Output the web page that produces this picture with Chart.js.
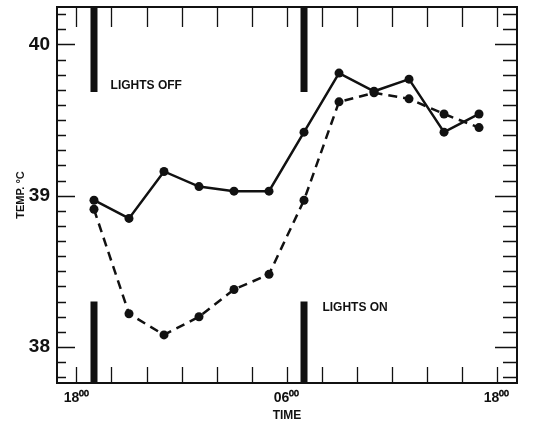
<!DOCTYPE html>
<html>
<head>
<meta charset="utf-8">
<script src="https://cdn.jsdelivr.net/npm/chart.js@4.4.0/dist/chart.umd.min.js"></script>
<style>
  html, body { margin: 0; padding: 0; background: #fff; }
  #wrap { width: 548px; height: 429px; }
</style>
</head>
<body>
<div id="wrap"><canvas id="tempChart"></canvas></div>
<script>
// hours after 18:00
const hours = [1, 3, 5, 7, 9, 11, 13, 15, 17, 19, 21, 23];
const tempSolid = [38.97, 38.85, 39.16, 39.06, 39.03, 39.03, 39.42, 39.81, 39.69, 39.77, 39.42, 39.54];
const tempDashed = [38.91, 38.22, 38.08, 38.20, 38.38, 38.48, 38.97, 39.62, 39.68, 39.64, 39.54, 39.45];

const lightsHours = [1, 13];
const lightsTopRange = [40.3, 39.685];
const lightsBottomRange = [38.30, 37.7];
const lightsLabels = [
  { text: 'LIGHTS OFF', x: 1.95, y: 39.724 },
  { text: 'LIGHTS ON', x: 14.05, y: 38.258 }
];

const yTickValues = [38, 39, 40];
const xTickValues = [0, 12, 24];
const xTickLabels = ['18⁰⁰', '06⁰⁰', '18⁰⁰'];

const FONT = "'Liberation Sans', Arial, sans-serif";
const INK = '#111';

const pts = arr => hours.map((h, i) => ({ x: h, y: arr[i] }));

const barSets = [];
lightsHours.forEach(h => {
  [lightsTopRange, lightsBottomRange].forEach(r => {
    barSets.push({
      data: r.map(v => ({ x: h, y: v })),
      borderColor: INK,
      borderWidth: 7,
      borderCapStyle: 'butt',
      pointRadius: 0,
      clip: 0
    });
  });
});

// frame, inward ticks and text labels
const framePlugin = {
  id: 'frame',
  afterDatasetsDraw(chart) {
    const { ctx, chartArea: a, scales: { x, y } } = chart;
    ctx.save();
    ctx.strokeStyle = INK;
    ctx.lineWidth = 2;
    ctx.strokeRect(a.left, a.top, a.right - a.left, a.bottom - a.top);

    ctx.lineWidth = 1.3;
    ctx.beginPath();
    for (let i = 378; i <= 402; i++) {
      const v = i / 10;
      const py = Math.round(y.getPixelForValue(v)) + 0.5;
      const major = i % 10 === 0;
      ctx.moveTo(a.left, py); ctx.lineTo(a.left + (major ? 18 : 9), py);
      ctx.moveTo(a.right, py); ctx.lineTo(a.right - (major ? 22 : 14), py);
    }
    for (let h = 0; h <= 24; h += 2) {
      const px = Math.round(x.getPixelForValue(h)) + 0.5;
      ctx.moveTo(px, a.top); ctx.lineTo(px, a.top + 20);
      ctx.moveTo(px, a.bottom); ctx.lineTo(px, a.bottom - 16);
    }
    ctx.stroke();

    ctx.fillStyle = INK;
    ctx.font = 'bold 12px ' + FONT;
    ctx.textBaseline = 'middle';
    ctx.textAlign = 'left';
    lightsLabels.forEach(l => {
      ctx.fillText(l.text, x.getPixelForValue(l.x), y.getPixelForValue(l.y));
    });
    ctx.restore();
  }
};

const chart = new Chart(document.getElementById('tempChart'), {
  type: 'line',
  data: {
    datasets: [
      {
        data: pts(tempDashed),
        borderColor: INK,
        backgroundColor: INK,
        borderWidth: 2.5,
        borderDash: [9, 6],
        pointRadius: 4.5,
        pointBorderWidth: 0
      },
      {
        data: pts(tempSolid),
        borderColor: INK,
        backgroundColor: INK,
        borderWidth: 2.5,
        pointRadius: 4.5,
        pointBorderWidth: 0
      },
      ...barSets
    ]
  },
  options: {
    responsive: true,
    maintainAspectRatio: false,
    animation: false,
    layout: { padding: { top: 7, right: 31, left: 0, bottom: 0 } },
    plugins: { legend: { display: false }, tooltip: { enabled: false } },
    elements: { line: { tension: 0 } },
    scales: {
      x: {
        type: 'linear',
        min: -1.114,
        max: 25.17,
        grid: { display: false, drawTicks: false },
        border: { display: false },
        afterBuildTicks: s => { s.ticks = xTickValues.map(v => ({ value: v })); },
        afterFit: s => { s.height = 46; s.paddingLeft = 0; s.paddingRight = 0; },
        ticks: {
          color: INK,
          padding: 7,
          autoSkip: false,
          maxRotation: 0,
          font: { family: FONT, size: 14, weight: 'bold' },
          callback: v => xTickLabels[xTickValues.indexOf(v)]
        },
        title: {
          display: true,
          text: 'TIME',
          color: INK,
          font: { family: FONT, size: 12, weight: 'bold' },
          padding: { top: 0, bottom: 6 }
        }
      },
      y: {
        min: 37.762,
        max: 40.247,
        grid: { display: false, drawTicks: false },
        border: { display: false },
        afterBuildTicks: s => { s.ticks = yTickValues.map(v => ({ value: v })); },
        afterFit: s => { s.width = 57; s.paddingTop = 0; s.paddingBottom = 0; },
        ticks: {
          color: INK,
          padding: 7,
          font: { family: FONT, size: 19, weight: 'bold' },
          callback: v => String(v)
        },
        title: {
          display: true,
          text: 'TEMP. °C',
          color: INK,
          font: { family: FONT, size: 11, weight: 'bold' },
          padding: { top: 14, bottom: 0 }
        }
      }
    }
  },
  plugins: [framePlugin]
});
</script>
</body>
</html>
